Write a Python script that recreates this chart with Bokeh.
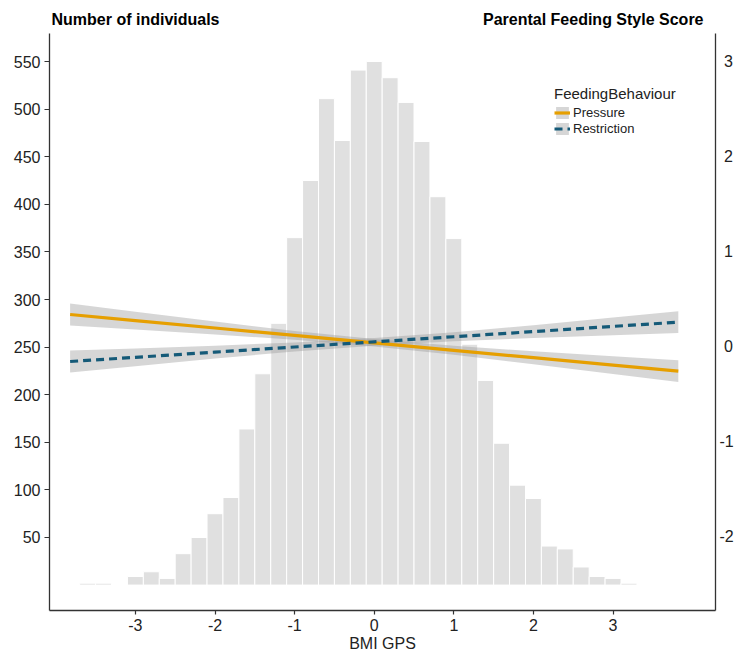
from bokeh.plotting import figure
from bokeh.models import (Range1d, LinearAxis, FixedTicker, Label, Legend,
                          LegendItem, ColumnDataSource)
from bokeh.embed import file_html
from bokeh.resources import INLINE

# ---------------- data ----------------
bin_centers = [-3.6, -3.4, -3.0, -2.8, -2.6, -2.4, -2.2, -2.0, -1.8, -1.6, -1.4,
               -1.2, -1.0, -0.8, -0.6, -0.4, -0.2, 0.0, 0.2, 0.4, 0.6, 0.8, 1.0,
               1.2, 1.4, 1.6, 1.8, 2.0, 2.2, 2.4, 2.6, 2.8, 3.0, 3.2]
counts = [2, 2, 9, 14, 7, 33, 50, 75, 92, 164, 222,
          275, 365, 425, 511, 467, 541, 550, 533, 507, 466, 408, 364,
          253, 215, 149, 105, 91, 41, 38, 19, 9, 7, 2]
bin_width = 0.2

fit_x = [-3.82, -3.0, -2.0, -1.0, 0.0, 1.0, 2.0, 3.0, 3.82]
pressure_fit = [0.337, 0.273, 0.195, 0.117, 0.039, -0.040, -0.118, -0.196, -0.260]
pressure_hi = [0.452, 0.367, 0.263, 0.164, 0.079, 0.007, -0.050, -0.102, -0.145]
pressure_lo = [0.222, 0.179, 0.127, 0.070, -0.001, -0.087, -0.186, -0.290, -0.375]
restriction_fit = [-0.158, -0.114, -0.059, -0.005, 0.049, 0.103, 0.157, 0.212, 0.256]
restriction_hi = [-0.043, -0.020, 0.009, 0.042, 0.089, 0.150, 0.225, 0.306, 0.371]
restriction_lo = [-0.273, -0.208, -0.127, -0.052, 0.009, 0.056, 0.089, 0.118, 0.141]

x_ticks = [-3, -2, -1, 0, 1, 2, 3]
x_tick_labels = ["-3", "-2", "-1", "0", "1", "2", "3"]
count_ticks = [50, 100, 150, 200, 250, 300, 350, 400, 450, 500, 550]
score_ticks = [-2, -1, 0, 1, 2, 3]
score_tick_labels = ["-2", "-1", "\u20080", "\u20081", "\u20082", "\u20083"]

# ---------------- figure ----------------
FONT = "Liberation Sans"
TXT = "#222222"

COUNT_MIN, COUNT_MAX = -26.7, 579.4
SCORE_MIN, SCORE_MAX = -2.781, 3.297

p = figure(width=736, height=655, output_backend="svg", toolbar_location=None,
           x_range=Range1d(-4.079, 4.287),
           y_range=Range1d(COUNT_MIN, 614.1),
           min_border_left=49, min_border_right=20, min_border_top=0,
           min_border_bottom=45)
p.extra_y_ranges = {"score": Range1d(SCORE_MIN, 3.645)}
p.xgrid.visible = False
p.ygrid.visible = False
p.outline_line_color = None
p.background_fill_color = "white"

lefts = [c - bin_width / 2 for c in bin_centers]
rights = [c + bin_width / 2 for c in bin_centers]
hist_src = ColumnDataSource(dict(left=lefts, right=rights, top=counts,
                                 bottom=[0] * len(counts)))
p.quad(left="left", right="right", top="top", bottom="bottom", source=hist_src,
       fill_color="#e0e0e0", line_color="white", line_width=1)

fit_src = ColumnDataSource(dict(x=fit_x, pf=pressure_fit, ph=pressure_hi,
                                pl=pressure_lo, rf=restriction_fit,
                                rh=restriction_hi, rl=restriction_lo))
pb = p.varea(x="x", y1="pl", y2="ph", source=fit_src, y_range_name="score",
             fill_color="#999999", fill_alpha=0.4)
rb = p.varea(x="x", y1="rl", y2="rh", source=fit_src, y_range_name="score",
             fill_color="#999999", fill_alpha=0.4)
pline = p.line(x="x", y="pf", source=fit_src, y_range_name="score",
               line_color="#E69F00", line_width=3.2)
rline = p.line(x="x", y="rf", source=fit_src, y_range_name="score",
               line_color="#155A78", line_width=3.2, line_dash="8 5")

# ---------------- axes ----------------
def style_axis(ax):
    ax.axis_line_color = "#333333"
    ax.axis_line_width = 1.3
    ax.major_tick_line_color = "#333333"
    ax.major_tick_line_width = 1.2
    ax.minor_tick_line_color = None
    ax.major_tick_in = 0
    ax.major_label_text_font = FONT
    ax.major_label_text_font_size = "16px"
    ax.major_label_text_color = TXT

xa = p.xaxis[0]
style_axis(xa)
xa.ticker = FixedTicker(ticks=x_ticks)
xa.major_label_overrides = {t: s for t, s in zip(x_ticks, x_tick_labels)}
xa.major_tick_out = 4
xa.major_label_standoff = 4
xa.axis_label = "BMI GPS"
xa.axis_label_text_font = FONT
xa.axis_label_text_font_size = "16px"
xa.axis_label_text_font_style = "normal"
xa.axis_label_text_color = TXT
xa.axis_label_standoff = 1

ya = p.yaxis[0]
style_axis(ya)
ya.ticker = FixedTicker(ticks=count_ticks)
ya.major_tick_out = 5
ya.major_label_standoff = 4
ya.bounds = (COUNT_MIN, COUNT_MAX)

ra = LinearAxis(y_range_name="score", ticker=FixedTicker(ticks=score_ticks))
style_axis(ra)
ra.major_label_overrides = {t: s for t, s in zip(score_ticks, score_tick_labels)}
ra.major_tick_out = 0
ra.major_tick_line_color = None
ra.major_label_standoff = 4
ra.bounds = (SCORE_MIN, SCORE_MAX)
p.add_layout(ra, "right")

# ---------------- titles ----------------
p.add_layout(Label(x=2, y=591, x_units="screen", y_units="screen",
                   text="Number of individuals", text_font=FONT,
                   text_font_size="16px", text_font_style="bold",
                   text_color="black", text_baseline="middle",
                   text_align="left"))
p.add_layout(Label(x=654, y=591, x_units="screen", y_units="screen",
                   text="Parental Feeding Style Score", text_font=FONT,
                   text_font_size="16px", text_font_style="bold",
                   text_color="black", text_baseline="middle",
                   text_align="right"))

# ---------------- legend ----------------
legend = Legend(items=[LegendItem(label="Pressure", renderers=[pb, pline]),
                       LegendItem(label="Restriction", renderers=[rb, rline])],
                title="FeedingBehaviour", location=(505, 474))
legend.background_fill_alpha = 0
legend.border_line_color = None
legend.padding = 0
legend.margin = 0
legend.spacing = 1
legend.glyph_width = 16
legend.glyph_height = 15
legend.label_height = 15
legend.label_standoff = 3
legend.title_standoff = 3
legend.label_text_font = FONT
legend.label_text_font_size = "13px"
legend.label_text_color = TXT
legend.title_text_font = FONT
legend.title_text_font_size = "15px"
legend.title_text_font_style = "normal"
legend.title_text_color = TXT
p.add_layout(legend)

open("out.html", "w").write(file_html(p, INLINE))
